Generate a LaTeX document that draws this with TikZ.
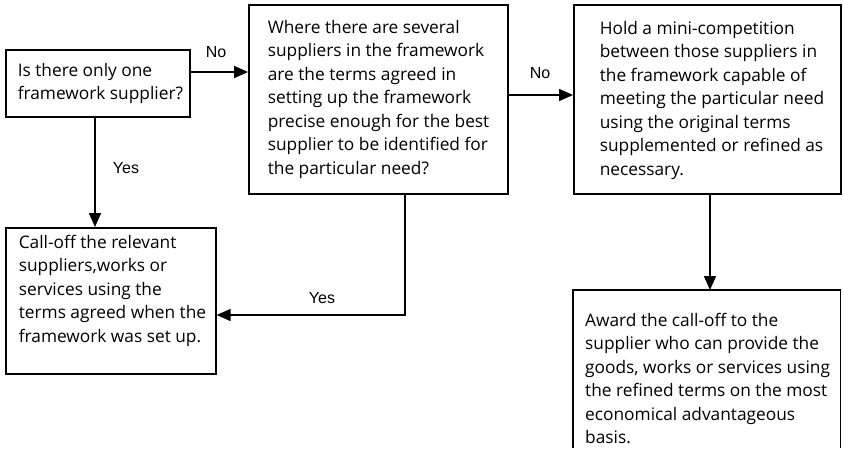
\documentclass[tikz,border=0pt]{standalone}
\usepackage{fontspec}
\setmainfont{Open Sans}
\newfontfamily\labelfont{Liberation Sans}
\usetikzlibrary{arrows.meta}
\tikzset{
  every picture/.style={x=1pt,y=-1pt},
  box/.style={draw, line width=1.6pt, inner sep=0pt, anchor=north west},
  arr/.style={line width=1.6pt, -{Triangle[length=14pt,width=12pt]}},
  lbl/.style={font=\labelfont\fontsize{16}{19}\selectfont, inner sep=0pt},
}
% #1 height, #2 left inset, #3 box width, #4 vertical pos, #5 text
\newcommand{\boxtext}[5]{\hspace*{#2}\parbox[c][#1][#4]{\dimexpr#3-#2\relax}{\fontsize{17.3}{23.5}\selectfont\raggedright #5}}
\begin{document}
\begin{tikzpicture}
\useasboundingbox (0,0) rectangle (844,448);
% A
\node[box, minimum width=184pt, minimum height=67pt] (A) at (5,49)
  {\boxtext{67pt}{12pt}{184pt}{c}{Is there only one\\framework supplier?}};
% B
\node[box, minimum width=259pt, minimum height=189pt] (B) at (248,4)
  {\boxtext{189pt}{19pt}{259pt}{c}{Where there are several\\suppliers in the framework\\are the terms agreed in\\setting up the framework\\precise enough for the best\\supplier to be identified for\\the particular need?}};
% C
\node[box, minimum width=267pt, minimum height=189pt] (C) at (573,4)
  {\boxtext{189pt}{26pt}{267pt}{c}{\vspace*{2pt}Hold a mini-competition\\between those suppliers in\\the framework capable of\\meeting the particular need\\using the original terms\\supplemented or refined as\\necessary.}};
% E
\node[box, minimum width=210pt, minimum height=146pt] (E) at (5,227)
  {\boxtext{132pt}{13pt}{210pt}{t}{Call-off the relevant\\suppliers,works or\\services using the\\terms agreed when the\\framework was set up.}};
% D (continues below the picture)
\node[inner sep=0pt, anchor=north west, minimum width=267pt, minimum height=158pt] (D) at (573,290)
  {\boxtext{158pt}{12pt}{267pt}{c}{\vspace*{23pt}Award the call-off to the\\supplier who can provide the\\goods, works or services using\\the refined terms on the most\\economical advantageous\\basis.\par\vfill}};
\draw[line width=1.6pt] (D.south west) -- (D.north west) -- (D.north east) -- (D.south east);
% connectors
\draw[arr] (A.east |- 0,72) -- (B.west |- 0,72);
\draw[arr] (B.east |- 0,95) -- (C.west |- 0,95);
\draw[arr] (95,0 |- A.south) -- (95,0 |- E.north);
\draw[arr] (710,0 |- C.south) -- (710,0 |- D.north);
\draw[arr] (405,0 |- B.south) |- (E.east |- 0,315);
% labels
\node[lbl] (n1) at (216,52) {No};
\node[lbl] (n2) at (540,73) {No};
\node[lbl] (y1) at (126,168) {Yes};
\node[lbl] (y2) at (322,298) {Yes};
\end{tikzpicture}
\end{document}
